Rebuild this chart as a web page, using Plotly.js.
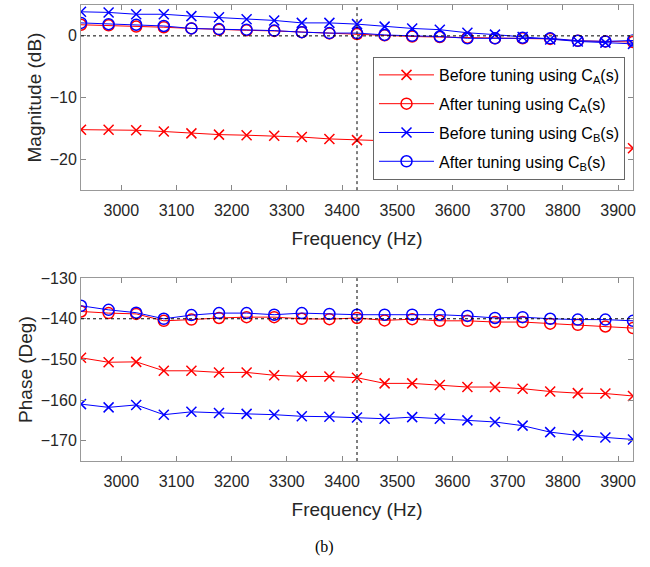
<!DOCTYPE html>
<html>
<head>
<meta charset="utf-8">
<script src="https://cdn.plot.ly/plotly-3.0.1.min.js"></script>
<style>html,body{margin:0;padding:0;background:#fff;}#chart{width:650px;height:567px;}</style>
</head>
<body>
<div id="chart"></div>
<script>
// Frequency points (Hz)
const freq = [2927, 2977, 3027, 3077, 3127, 3177, 3227, 3277, 3327, 3377, 3427,
              3477, 3527, 3577, 3627, 3677, 3727, 3777, 3827, 3877, 3927];

// Magnitude (dB)
const magBeforeA = [-15.2, -15.2, -15.3, -15.5, -15.8, -16.0, -16.1, -16.2, -16.4, -16.7, -16.9,
                    -17.0, -17.1, -17.3, -17.4, -17.5, -17.7, -17.8, -17.9, -18.0, -18.2];
const magAfterA  = [1.8, 1.7, 1.5, 1.4, 1.2, 1.0, 0.9, 0.8, 0.6, 0.4, 0.3,
                    0.1, -0.1, -0.2, -0.3, -0.4, -0.4, -0.5, -0.8, -0.9, -1.0];
const magBeforeB = [3.9, 3.8, 3.5, 3.5, 3.2, 3.0, 2.7, 2.5, 2.1, 2.1, 1.9,
                    1.5, 1.2, 1.0, 0.5, 0.2, -0.2, -0.6, -0.9, -1.1, -1.3];
const magAfterB  = [2.1, 1.9, 1.8, 1.6, 1.2, 1.1, 1.0, 0.85, 0.6, 0.45, 0.45,
                    0.15, 0.0, -0.1, -0.4, -0.4, -0.3, -0.4, -0.8, -0.9, -0.75];

// Phase (Deg)
const phBeforeA = [-149.6, -150.7, -150.6, -152.8, -152.8, -153.2, -153.2, -153.9, -154.2, -154.2, -154.5,
                   -155.9, -155.9, -156.3, -156.8, -156.8, -157.2, -157.9, -158.3, -158.4, -159.0];
const phAfterA  = [-138.2, -138.6, -138.8, -140.5, -140.2, -139.8, -139.6, -139.6, -140.0, -140.1, -139.8,
                   -140.4, -140.1, -140.5, -140.5, -140.8, -140.8, -141.2, -141.5, -141.9, -142.3];
const phBeforeB = [-161.0, -161.8, -161.2, -163.6, -162.9, -163.2, -163.4, -163.6, -164.0, -164.1, -164.3,
                   -164.6, -164.2, -164.6, -165.0, -165.4, -166.3, -167.9, -168.7, -169.2, -169.7];
const phAfterB  = [-136.8, -137.8, -138.5, -140.0, -139.1, -138.6, -138.6, -139.0, -138.6, -138.8, -139.0,
                   -139.0, -139.0, -139.0, -139.3, -139.8, -139.6, -140.0, -140.2, -140.2, -140.5];

// Reference lines
const refFreq = [3427];
const refMag = [0];
const refPhase = [-140];

// Labels
const seriesNames = ['Before tuning using C<sub>A</sub>(s)', 'After tuning using C<sub>A</sub>(s)',
                     'Before tuning using C<sub>B</sub>(s)', 'After tuning using C<sub>B</sub>(s)'];
const freqTicks = [3000, 3100, 3200, 3300, 3400, 3500, 3600, 3700, 3800, 3900];
const magTicks = [-20, -10, 0];
const phaseTicks = [-170, -160, -150, -140, -130];
const xTitle = 'Frequency (Hz)';
const magTitle = 'Magnitude (dB)';
const phaseTitle = 'Phase (Deg)';
const caption = '(b)';

const RED = 'rgb(255,0,0)', BLUE = 'rgb(0,0,255)';
function tr(x, y, name, color, sym, ax, show) {
  return {
    x: x, y: y, name: name, type: 'scatter', mode: 'lines+markers',
    xaxis: ax[0], yaxis: ax[1], showlegend: show, legendgroup: name,
    line: {color: color, width: 1},
    marker: {symbol: sym, size: sym.indexOf('x') === 0 ? 10 : 11, color: color,
             line: {color: color, width: 1.5}}
  };
}
const data = [
  tr(freq, magBeforeA, seriesNames[0], RED, 'x-thin-open', ['x', 'y'], true),
  tr(freq, magAfterA, seriesNames[1], RED, 'circle-open', ['x', 'y'], true),
  tr(freq, magBeforeB, seriesNames[2], BLUE, 'x-thin-open', ['x', 'y'], true),
  tr(freq, magAfterB, seriesNames[3], BLUE, 'circle-open', ['x', 'y'], true),
  tr(freq, phBeforeA, seriesNames[0], RED, 'x-thin-open', ['x2', 'y2'], false),
  tr(freq, phAfterA, seriesNames[1], RED, 'circle-open', ['x2', 'y2'], false),
  tr(freq, phBeforeB, seriesNames[2], BLUE, 'x-thin-open', ['x2', 'y2'], false),
  tr(freq, phAfterB, seriesNames[3], BLUE, 'circle-open', ['x2', 'y2'], false)
];

const FONT = 'Liberation Sans, Arial, sans-serif';
const TXT = '#262626';
function xax(anchor) {
  return {
    anchor: anchor, range: [2927, 3927], tickvals: freqTicks,
    ticks: 'inside', ticklen: 5, tickcolor: '#888', showline: true, linecolor: '#999', linewidth: 1,
    mirror: 'ticks', showgrid: false, zeroline: false, ticklabelstandoff: 6,
    tickfont: {family: FONT, size: 16, color: TXT},
    title: {text: xTitle, font: {family: FONT, size: 19, color: TXT}, standoff: 13}
  };
}
function yax(anchor, domain, range, vals, title) {
  return {
    anchor: anchor, domain: domain, range: range, tickvals: vals,
    ticks: 'inside', ticklen: 5, tickcolor: '#888', showline: true, linecolor: '#999', linewidth: 1,
    mirror: 'ticks', showgrid: false, zeroline: false,
    tickfont: {family: FONT, size: 16, color: TXT},
    title: {text: title, font: {family: FONT, size: 19, color: TXT}, standoff: 3}
  };
}

const dotted = {color: '#000', width: 1, dash: 'dot'};
const shapes = [
  {type: 'line', xref: 'x', yref: 'y domain', x0: refFreq[0], x1: refFreq[0], y0: 0, y1: 1, line: dotted},
  {type: 'line', xref: 'x domain', yref: 'y', x0: 0, x1: 1, y0: refMag[0], y1: refMag[0], line: dotted},
  {type: 'line', xref: 'x2', yref: 'y2 domain', x0: refFreq[0], x1: refFreq[0], y0: 0, y1: 1, line: dotted},
  {type: 'line', xref: 'x2 domain', yref: 'y2', x0: 0, x1: 1, y0: refPhase[0], y1: refPhase[0], line: dotted}
];

const layout = {
  width: 650, height: 567,
  margin: {l: 81, r: 17, t: 5, b: 106},
  paper_bgcolor: '#fff', plot_bgcolor: '#fff',
  font: {family: FONT, color: TXT},
  xaxis: xax('y'),
  yaxis: yax('x', [0.594, 1], [-25, 5], magTicks, magTitle),
  xaxis2: xax('y2'),
  yaxis2: yax('x2', [0, 0.401], [-175, -130], phaseTicks, phaseTitle),
  shapes: shapes,
  showlegend: true,
  legend: {
    x: 0.529, y: 0.886, xanchor: 'left', yanchor: 'top',
    bgcolor: '#fff', bordercolor: '#666', borderwidth: 1,
    font: {family: FONT, size: 16, color: '#000'},
    itemwidth: 55, tracegroupgap: 5
  },
  annotations: [
    {text: caption, xref: 'paper', yref: 'paper', x: 0.442, y: -0.189, showarrow: false,
     xanchor: 'center', yanchor: 'middle', font: {family: 'Liberation Serif, Times New Roman, serif', size: 16, color: '#000'}}
  ]
};

Plotly.newPlot('chart', data, layout, {staticPlot: true, displayModeBar: false});
</script>
</body>
</html>
